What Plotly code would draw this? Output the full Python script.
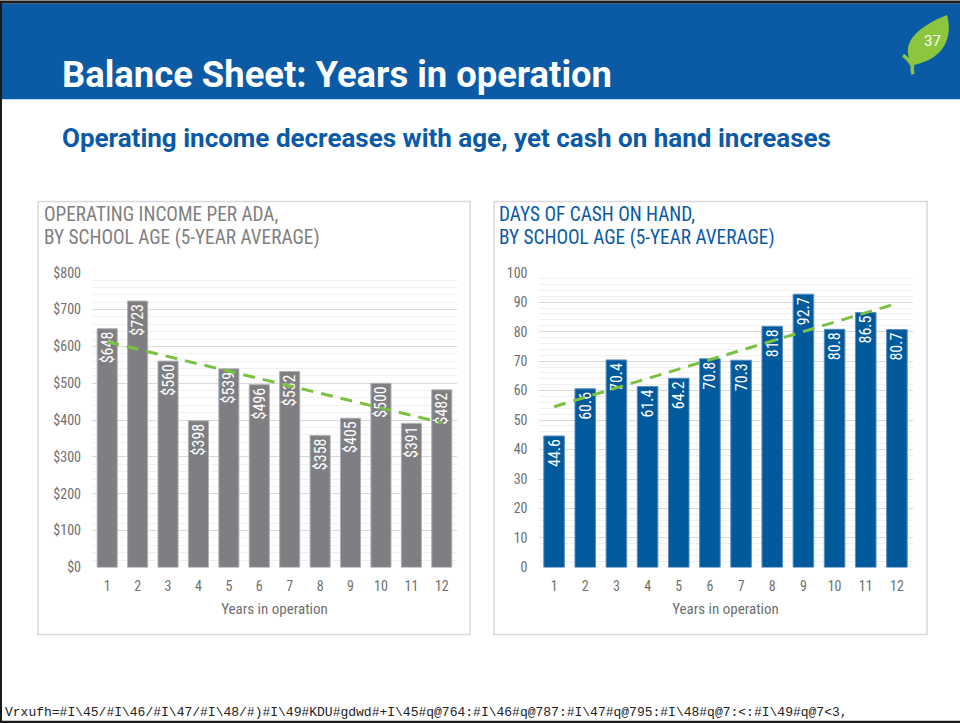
import numpy as np
import plotly.graph_objects as go

years = list(range(1, 13))
income = [648, 723, 560, 398, 539, 496, 532, 358, 405, 500, 391, 482]
income_labels = ["$648", "$723", "$560", "$398", "$539", "$496", "$532", "$358", "$405", "$500", "$391", "$482"]
cash_days = [44.6, 60.6, 70.4, 61.4, 64.2, 70.8, 70.3, 81.8, 92.7, 80.8, 86.5, 80.7]
cash_labels = ["44.6", "60.6", "70.4", "61.4", "64.2", "70.8", "70.3", "81.8", "92.7", "80.8", "86.5", "80.7"]
income_ticks = [0, 100, 200, 300, 400, 500, 600, 700, 800]
income_ticktext = ["$0", "$100", "$200", "$300", "$400", "$500", "$600", "$700", "$800"]
cash_ticks = [0, 10, 20, 30, 40, 50, 60, 70, 80, 90, 100]

title = "Balance Sheet: Years in operation"
subtitle = "Operating income decreases with age, yet cash on hand increases"
left_title = ["OPERATING INCOME PER ADA,", "BY SCHOOL AGE (5-YEAR AVERAGE)"]
right_title = ["DAYS OF CASH ON HAND,", "BY SCHOOL AGE (5-YEAR AVERAGE)"]
xlabel = "Years in operation"
page_no = "37"
footer = "Vrxufh=#I\\45/#I\\46/#I\\47/#I\\48/#)#I\\49#KDU#gdwd#+I\\45#q@764:#I\\46#q@787:#I\\47#q@795:#I\\48#q@7:<:#I\\49#q@7<3,"

W, H = 960, 742
SHIFT = 7.5          # figure is pulled up by this many px on the page
SY = 0.976           # vertical calibration of the page capture
OY = 7.3 - SY * SHIFT
BLUE = "#0b5aa5"
BAR_BLUE = "#005a9c"
GRAY_BAR = "#7f7f83"
GREEN = "#7ac143"
NARROW = "Liberation Sans Narrow, Roboto Condensed, Arial Narrow, Roboto, sans-serif"

def px(x):
    return x / W

def py(y):
    return 1 - ((y - OY) / SY) / H

# linear trend lines (least squares fit of the data, like the spreadsheet trendline)
xs = np.array(years, dtype=float)
c1 = np.polyfit(xs, np.array(income, dtype=float), 1)
c2 = np.polyfit(xs, np.array(cash_days, dtype=float), 1)
trend_income = [float(c1[0] * x + c1[1]) for x in xs]
trend_cash = [float(c2[0] * x + c2[1]) for x in xs]

fig = go.Figure()

fig.add_trace(go.Bar(
    x=years, y=income, text=income_labels, textposition="inside", insidetextanchor="end",
    textangle=-90, constraintext="none", textfont=dict(color="white", size=16, family=NARROW),
    marker=dict(color=GRAY_BAR, line=dict(color="#b0b0b4", width=1)),
    width=0.66, xaxis="x", yaxis="y", showlegend=False, hoverinfo="skip",
))
fig.add_trace(go.Scatter(
    x=years, y=trend_income, mode="lines",
    line=dict(color=GREEN, width=3, dash="12px,8px"),
    xaxis="x", yaxis="y", showlegend=False, hoverinfo="skip",
))
fig.add_trace(go.Bar(
    x=years, y=cash_days, text=cash_labels, textposition="inside", insidetextanchor="end",
    textangle=-90, constraintext="none", textfont=dict(color="white", size=16, family=NARROW),
    marker=dict(color=BAR_BLUE, line=dict(color="#5a8fc2", width=1)),
    width=0.66, xaxis="x2", yaxis="y2", showlegend=False, hoverinfo="skip",
))
fig.add_trace(go.Scatter(
    x=years, y=trend_cash, mode="lines",
    line=dict(color=GREEN, width=3, dash="12px,8px"),
    xaxis="x2", yaxis="y2", showlegend=False, hoverinfo="skip",
))

tickfont = dict(family=NARROW, size=14, color="#6f6f6f")
xtitle_font = dict(family=NARROW, size=15, color="#6f6f6f")

common_x = dict(
    tickmode="array", tickvals=years, ticktext=[str(y) for y in years],
    range=[0.5, 12.5], showgrid=False, zeroline=False, showline=False,
    ticks="", tickfont=tickfont, fixedrange=True, ticklabelstandoff=9,
    title=dict(text=xlabel, font=xtitle_font, standoff=10),
)
common_y = dict(
    showgrid=True, gridcolor="#d9d9d9", gridwidth=1, zeroline=False, showline=False,
    ticks="", tickfont=tickfont, fixedrange=True,
)

fig.update_layout(
    width=W, height=H, margin=dict(l=0, r=0, t=0, b=0),
    paper_bgcolor="white", plot_bgcolor="white",
    bargap=0.34,
    xaxis=dict(domain=[px(92), px(457)], anchor="y", **common_x),
    yaxis=dict(domain=[py(565), py(271)], anchor="x", range=[0, 800],
               tickvals=income_ticks, ticktext=income_ticktext,
               minor=dict(dtick=20, tick0=0, showgrid=True, gridcolor="#f0f0f0", gridwidth=1),
               ticklabelstandoff=10, **common_y),
    xaxis2=dict(domain=[px(538.5), px(912.5)], anchor="y2", **common_x),
    yaxis2=dict(domain=[py(565), py(271)], anchor="x2", range=[0, 100],
                tickvals=cash_ticks,
                minor=dict(dtick=2, tick0=0, showgrid=True, gridcolor="#f0f0f0", gridwidth=1),
                ticklabelstandoff=10, **common_y),
)

shapes = []
# header band
shapes.append(dict(type="rect", xref="paper", yref="paper", x0=0, x1=1, y0=py(98), y1=py(2.5),
                   fillcolor=BLUE, line=dict(width=0), layer="below"))
# slide borders
shapes.append(dict(type="line", xref="paper", yref="paper", x0=0, x1=1, y0=py(1), y1=py(1),
                   line=dict(color="#1a1a1a", width=3)))
shapes.append(dict(type="line", xref="paper", yref="paper", x0=px(1), x1=px(1), y0=0, y1=1,
                   line=dict(color="#1a1a1a", width=2)))
shapes.append(dict(type="line", xref="paper", yref="paper", x0=0, x1=1, y0=py(720), y1=py(720),
                   line=dict(color="#1a1a1a", width=4)))
# chart panels
for x0, x1 in [(38, 470), (494, 927)]:
    shapes.append(dict(type="rect", xref="paper", yref="paper", x0=px(x0), x1=px(x1),
                       y0=py(632), y1=py(200), line=dict(color="#d9d9d9", width=1.5),
                       fillcolor="rgba(0,0,0,0)", layer="below"))

# leaf icon
def pathp(cmds):
    out = []
    for c in cmds:
        if isinstance(c, str):
            out.append(c)
        else:
            out.append(f"{px(c[0]):.5f},{py(c[1]):.5f}")
    return " ".join(out)

leaf = pathp(["M", (913, 64), "C", (899, 45), (914, 27), (947, 14), "C", (953, 35), (945, 58), (913, 64), "Z"])
shapes.append(dict(type="path", xref="paper", yref="paper", path=leaf,
                   fillcolor="#8cc63f", line=dict(width=0)))
stem = pathp(["M", (913, 73), "Q", (911, 66), (914, 58)])
shapes.append(dict(type="path", xref="paper", yref="paper", path=stem,
                   line=dict(color="#8cc63f", width=3.5)))
branch = pathp(["M", (912, 64), "Q", (908, 57), (903, 54)])
shapes.append(dict(type="path", xref="paper", yref="paper", path=branch,
                   line=dict(color="#8cc63f", width=3.5)))

def ann(text, x, y, size, color, family, xanchor="left"):
    return dict(text=text, x=px(x), y=py(y), xref="paper", yref="paper",
                xanchor=xanchor, yanchor="middle", showarrow=False,
                font=dict(family=family, size=size, color=color))

annotations = [
    ann(f"<b>{title}</b>", 60, 73, 36.4, "white", "Roboto, sans-serif"),
    ann(f"<b>{subtitle}</b>", 60, 137, 26, BLUE, "Roboto, sans-serif"),
    ann(left_title[0], 42, 213, 19.3, "#7f7f7f", NARROW),
    ann(left_title[1], 42, 236, 19.3, "#7f7f7f", NARROW),
    ann(right_title[0], 497, 213, 19.3, BLUE, NARROW),
    ann(right_title[1], 497, 236, 19.3, BLUE, NARROW),
    ann(page_no, 932, 40, 15, "white", "Roboto, sans-serif", xanchor="center"),
    ann(footer, 3, 710, 13, "#222222", "Liberation Mono, DejaVu Sans Mono, monospace"),
]

fig.update_layout(shapes=shapes, annotations=annotations)

post = (
    "document.documentElement.style.margin='0px';"
    "document.body.style.margin='0px';"
    "document.documentElement.style.overflow='hidden';"
    "document.body.style.overflow='hidden';"
    "var gd=document.getElementById('{plot_id}');"
    "gd.style.position='fixed';gd.style.top='-" + str(SHIFT) + "px';gd.style.left='0px';"
)
fig.write_html("out.html", post_script=post, config={"displayModeBar": False, "staticPlot": True})
